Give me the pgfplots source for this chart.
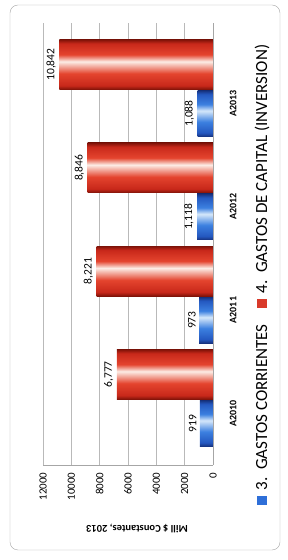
\documentclass[border=0pt]{standalone}
\usepackage{fontspec}
\setmainfont{Carlito}
\usepackage{pgfplots}
\pgfplotsset{compat=1.18}
\definecolor{rdark}{HTML}{7E1208}
\definecolor{rmid}{HTML}{C8281A}
\definecolor{rbright}{HTML}{E4442E}
\definecolor{rhi}{HTML}{FCEDE6}
\definecolor{bdark}{HTML}{16327E}
\definecolor{bmid}{HTML}{2458C0}
\definecolor{bbright}{HTML}{3C80E0}
\definecolor{bhi}{HTML}{D6E8FA}
\definecolor{legblue}{HTML}{2E6FD8}
\definecolor{legred}{HTML}{D93A2A}
\pgfdeclareverticalshading{redcyl}{100bp}{color(0bp)=(rdark); color(25bp)=(rdark); color(29bp)=(rmid); color(41bp)=(rbright); color(53bp)=(rhi); color(60bp)=(rbright); color(71bp)=(rmid); color(75bp)=(rdark); color(100bp)=(rdark)}
\pgfdeclareverticalshading{bluecyl}{100bp}{color(0bp)=(bdark); color(25bp)=(bdark); color(29bp)=(bmid); color(41bp)=(bbright); color(53bp)=(bhi); color(60bp)=(bbright); color(71bp)=(bmid); color(75bp)=(bdark); color(100bp)=(bdark)}
\pgfplotsset{
  bluebar/.style={draw=none, shade, shading=bluecyl, bar width=46pt, bar shift=-10pt},
  redbar/.style={draw=none, shade, shading=redcyl, bar width=50pt, bar shift=39pt},
}
\begin{document}
\begin{tikzpicture}
\useasboundingbox (0,0) rectangle (287pt,560pt);
\draw[gray!70, rounded corners=8pt] (10pt,10pt) rectangle (280pt,555pt);
\begin{axis}[
  at={(43pt,95pt)}, anchor=south west,
  scale only axis, width=170pt, height=442pt,
  xbar,
  /pgf/number format/assume math mode=true,
  scaled x ticks=false,
  xmin=0, xmax=12000, x dir=reverse,
  ymin=-0.5, ymax=3.78,
  xtick={0,2000,...,12000},
  xticklabel shift=4pt,
  xticklabel style={rotate=90, anchor=east, font=\fontsize{11}{13}\selectfont, /pgf/number format/1000 sep=},
  ytick={0,1,2,3}, yticklabels={A2010,A2011,A2012,A2013},
  yticklabel pos=right,
  yticklabel shift=9pt,
  yticklabel style={rotate=90, anchor=north, font=\bfseries\fontsize{10}{12}\selectfont},
  tick style={draw=none},
  axis x line*=bottom, axis y line*=right,
  axis line style={gray!70},
  xmajorgrids, grid style={gray!55, line width=0.4pt},
  xlabel={Mill \$ Constantes, 2013},
  xlabel style={at={(axis description cs:0.553,0)}, yshift=-63pt, rotate=180, anchor=center, font=\bfseries\fontsize{10.5}{12}\selectfont},
  nodes near coords={\pgfmathprintnumber[1000 sep={,}, assume math mode=true]{\pgfplotspointmeta}},
  every node near coord/.append style={rotate=90, anchor=south, font=\fontsize{11.5}{13}\selectfont, text=black},
]
\addplot[bluebar] coordinates {(919,0)};
\addplot[bluebar] coordinates {(973,1)};
\addplot[bluebar] coordinates {(1118,2)};
\addplot[bluebar] coordinates {(1088,3)};
\addplot[redbar] coordinates {(6777,0)};
\addplot[redbar] coordinates {(8221,1)};
\addplot[redbar] coordinates {(8846,2)};
\addplot[redbar] coordinates {(10842,3)};
\end{axis}
\node[rotate=90, anchor=center, inner sep=0pt, font=\fontsize{17}{20}\selectfont] at (262pt,285pt)
  {\textcolor{legblue}{\rule[0.5pt]{9pt}{10pt}}\hspace{6pt}3.~~GASTOS CORRIENTES\hspace{16pt}\textcolor{legred}{\rule[0.5pt]{9pt}{10pt}}\hspace{6pt}4.~~GASTOS DE CAPITAL (INVERSION)};
\end{tikzpicture}
\end{document}
